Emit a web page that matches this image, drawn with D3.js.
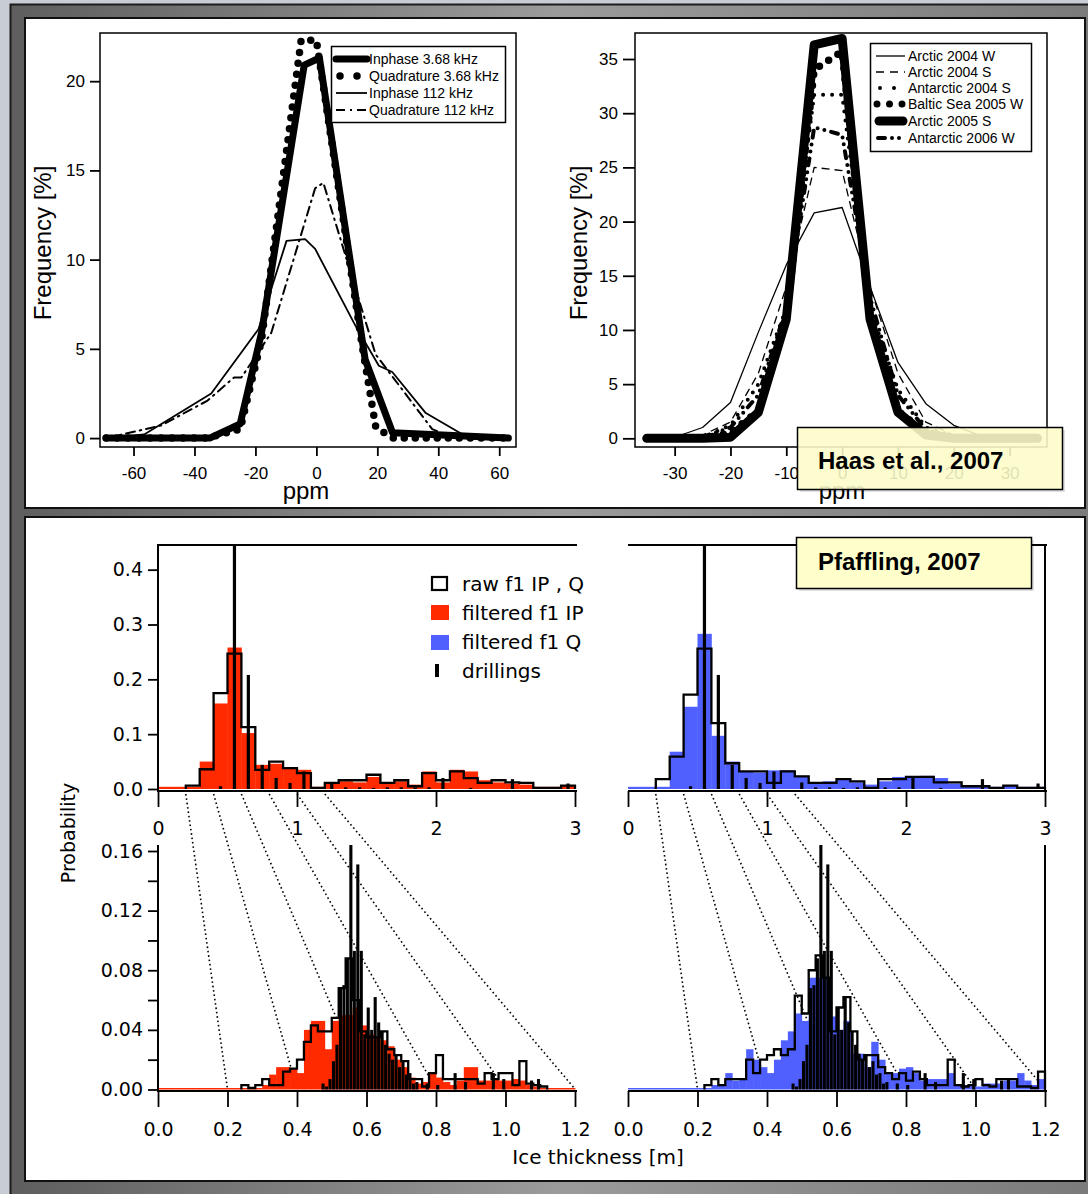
<!DOCTYPE html>
<html><head><meta charset="utf-8">
<script src="https://cdn.jsdelivr.net/npm/d3@7/dist/d3.min.js"></script>
<style>
html,body{margin:0;padding:0;background:#888;}
svg{display:block}
</style></head>
<body>
<svg id="chart" width="1088" height="1194"></svg>
<script>
// ================= DATA =================
// --- top-left (Haas): frequency [%] vs ppm ---
const tlLegend = ["Inphase 3.68 kHz","Quadrature 3.68 kHz","Inphase 112 kHz","Quadrature 112 kHz"];
const tlInphase368 = [[-69,0],[-35,0],[-25,0.8],[-18,5.9],[-4,20.9],[1,21.3],[16,4.4],[25,0.3],[63,0]];
const tlQuad368    = [[-69,0],[-36,0],[-25,0.5],[-18,5.5],[-5,22.3],[0,22.3],[15,5.2],[19.5,0.6],[25,0],[63,0]];
const tlInphase112 = [[-69,0],[-56.5,0.2],[-34.5,2.5],[-19,6.1],[-9.8,11.05],[-3.7,11.15],[-0.4,10.6],[12.8,6.3],[20.5,4.05],[24.9,3.7],[35.9,1.4],[49,0.1],[63,0]];
const tlQuad112    = [[-69,0],[-51,0.7],[-35.7,2.1],[-27,3.4],[-24.6,3.4],[-14.8,5.9],[-0.4,14.0],[2.3,14.3],[19.4,4.7],[38,0.5],[45,0],[63,0]];
const tlXTicks = [-60,-40,-20,0,20,40,60];
const tlYTicks = [0,5,10,15,20];

// --- top-right (Haas): frequency [%] vs ppm ---
const trLegend = ["Arctic 2004 W","Arctic 2004 S","Antarctic 2004 S","Baltic Sea 2005 W","Arctic 2005 S","Antarctic 2006 W"];
const trPpm            = [-35,-30,-25,-20,-15,-10,-5,0,5,10,15,20,25,30,35];
const trArctic2004W    = [0,0.1,1.0,3.3,9.8,16,20.8,21.3,14,7,3.2,1.2,0.2,0,0];
const trArctic2004S    = [0,0,0.3,1.5,6,14,25,24.7,14,6,1.5,0.3,0,0,0];
const trAntarctic2004S = [0,0,0.1,1.2,5,12,31.7,31.7,12,4.5,1,0.2,0,0,0];
const trBaltic2005W    = [0,0,0,0.5,2.5,11,34,35.7,11,2.5,0.5,0,0,0,0];
const trArctic2005S    = [0,0,0,0.1,2.4,11,36.3,36.9,11,2.4,0.3,0,0,0,0];
const trAntarctic2006W = [0,0,0.1,1,4,12,28.7,28,13,4,0.8,0.1,0,0,0];
const trXTicks = [-30,-20,-10,0,10,20,30];
const trYTicks = [0,5,10,15,20,25,30,35];

// --- bottom (Pfaffling): probability vs ice thickness ---
const topBinWidth = 0.1;   // m, histograms on 0..3 m
const botBinWidth = 0.02;  // m, histograms on 0..1.2 m
const hTopRawL  = [0,0,0.006,0.036,0.175,0.247,0.113,0.035,0.05,0.038,0.029,0.002,0.011,0.016,0.016,0.026,0.011,0.016,0.005,0.029,0.016,0.032,0.020,0.011,0.016,0.012,0.011,0.002,0.002,0.006];
const hTopFiltL = [0.004,0.004,0.004,0.05,0.156,0.258,0.102,0.044,0.046,0.038,0.035,0.004,0.010,0.014,0.012,0.022,0.010,0.014,0.008,0.032,0.012,0.035,0.032,0.016,0.012,0.010,0.008,0.004,0.004,0.006];
const hTopRawR  = [0,0,0.018,0.059,0.172,0.256,0.12,0.047,0.032,0.032,0.011,0.032,0.023,0.011,0.011,0.018,0.014,0.002,0.018,0.018,0.022,0.022,0.012,0.012,0.005,0.005,0.002,0.006,0.002,0.002];
const hTopFiltR = [0.004,0.004,0.004,0.068,0.150,0.283,0.097,0.05,0.032,0.03,0.034,0.034,0.024,0.012,0.014,0.018,0.012,0.008,0.014,0.022,0.022,0.024,0.020,0.010,0.006,0.004,0.004,0.006,0.004,0.004];
const drillTop  = [0,0,0,0,0.005,0.62,0.208,0.044,0.02,0.011,0.032,0,0.012,0.003,0.003,0.002,0.003,0.003,0.003,0.003,0.02,0,0.002,0,0,0.018,0,0,0,0.01];

const hBotRawL  = [0,0,0,0,0,0,0,0,0,0,0,0,0.003,0.001,0.003,0.007,0.003,0.003,0.012,0.014,0.020,0.032,0.043,0.039,0.039,0.048,0.068,0.088,0.06,0.039,0.035,0.035,0.039,0.027,0.023,0.019,0.007,0.007,0.002,0.011,0.023,0.007,0.007,0.007,0.007,0.007,0.004,0.011,0.007,0.011,0.011,0.003,0.019,0.004,0.003,0.002,0,0,0,0];
const hBotFiltL = [0.001,0.001,0.001,0.001,0.001,0.001,0.001,0.001,0.001,0.001,0.001,0.001,0.001,0.001,0.001,0.003,0.01,0.015,0.015,0.014,0.011,0.04,0.046,0.046,0.027,0.046,0.05,0.05,0.055,0.043,0.037,0.035,0.033,0.029,0.020,0.015,0.008,0.004,0.005,0.011,0.008,0.005,0.003,0.006,0.015,0.015,0.006,0.006,0.007,0.006,0.006,0.007,0.006,0.003,0.002,0.001,0.001,0.001,0.001,0.001];
const hBotRawR  = [0,0,0,0,0,0,0,0,0,0,0,0.003,0.007,0.003,0.007,0.007,0.007,0.020,0.011,0.02,0.023,0.027,0.023,0.027,0.063,0.051,0.08,0.09,0.075,0.039,0.055,0.062,0.039,0.02,0.023,0.023,0.015,0.011,0.007,0.011,0.006,0.012,0.007,0.003,0.003,0.003,0.02,0.003,0.002,0.003,0.007,0.003,0.002,0.007,0.007,0.007,0.002,0.002,0.001,0.012];
const hBotFiltR = [0.001,0.001,0.001,0.001,0.001,0.001,0.001,0.001,0.001,0.001,0.001,0.001,0.003,0.003,0.011,0.006,0.007,0.027,0.02,0.015,0.011,0.02,0.033,0.039,0.051,0.046,0.075,0.075,0.075,0.049,0.04,0.046,0.024,0.024,0.015,0.032,0.02,0.011,0.011,0.014,0.015,0.011,0.006,0.007,0.007,0.007,0.011,0.003,0.003,0.003,0.002,0.004,0.004,0.004,0.006,0.006,0.011,0.006,0.003,0.007];
const drillBotThick = [0.475,0.485,0.495,0.505,0.515,0.525,0.535,0.545,0.555,0.565,0.575,0.585,0.595,0.605,0.615,0.625,0.635,0.645,0.655,0.665,0.675,0.685,0.695,0.705,0.715,0.725,0.735,0.745,0.775,0.805,0.855,0.885,0.965,0.995,1.075,1.095];
const drillBotProb  = [0.004,0.002,0.007,0.019,0.03,0.068,0.07,0.088,0.164,0.093,0.151,0.093,0.037,0.055,0.04,0.062,0.045,0.039,0.03,0.024,0.02,0.023,0.015,0.019,0.01,0.011,0.004,0.005,0.004,0.003,0.011,0.005,0.011,0.007,0.006,0.007];
const topXTicks = [0,1,2,3];
const topYTicks = [0,0.1,0.2,0.3,0.4];
const botXTicks = [0,0.2,0.4,0.6,0.8,1.0,1.2];
const botYTicks = [0,0.02,0.04,0.06,0.08,0.1,0.12,0.14,0.16];
const linkTicks = [0.2,0.4,0.6,0.8,1.0,1.2];
const botLegend = ["raw f1 IP , Q","filtered f1 IP","filtered f1 Q","drillings"];

// ================= DRAWING =================
const FT = "'Liberation Sans', Arial, Helvetica, sans-serif";
const FB = "'DejaVu Sans', 'Liberation Sans', sans-serif";
const RED = "#ff2a00", BLUE = "#5060ff", YEL = "#ffffcc";
const svg = d3.select("#chart");
const defs = svg.append("defs");

// background
const bgGrad = defs.append("linearGradient").attr("id","bgGrad").attr("x1",0).attr("x2",1).attr("y1",0).attr("y2",0);
bgGrad.append("stop").attr("offset","0").attr("stop-color","#5e5e5e");
bgGrad.append("stop").attr("offset","0.5").attr("stop-color","#9b9b9b");
bgGrad.append("stop").attr("offset","1").attr("stop-color","#7a7a7a");
svg.append("rect").attr("width",1088).attr("height",1194).attr("fill","#c8cdd5");
svg.append("rect").attr("x",10.5).attr("y",4.5).attr("width",1090).attr("height",1200)
  .attr("fill","url(#bgGrad)").attr("stroke","#1c1c1c").attr("stroke-width",2);
svg.append("rect").attr("x",25).attr("y",18).attr("width",1060).attr("height",490)
  .attr("fill","#fff").attr("stroke","#111").attr("stroke-width",2);
svg.append("rect").attr("x",25).attr("y",517).attr("width",1060).attr("height",664)
  .attr("fill","#fff").attr("stroke","#111").attr("stroke-width",2);

function addClip(id,x,y,w,h){
  defs.append("clipPath").attr("id",id).append("rect").attr("x",x).attr("y",y).attr("width",w).attr("height",h);
}
function styleAxis(sel,font,size){
  sel.select(".domain").remove();
  sel.selectAll(".tick line").attr("stroke","#000").attr("stroke-width",1.4);
  sel.selectAll(".tick text").attr("font-family",font).attr("font-size",size).attr("fill","#000");
}

// ---------- top-left ----------
const tlx = d3.scaleLinear().domain([-71,65.5]).range([100,516]);
const tly = d3.scaleLinear().domain([-0.5,22.7]).range([447,33]);
addClip("clipTL",100,33,416,414);
const gTL = svg.append("g");
const tlLine = d3.line().x(d=>tlx(d[0])).y(d=>tly(d[1]));
const gTLd = gTL.append("g").attr("clip-path","url(#clipTL)");
const tlStyles = [
  {data:tlInphase368, w:7, dash:null},
  {data:tlQuad368, w:7.5, dash:"0 11"},
  {data:tlInphase112, w:1.8, dash:null},
  {data:tlQuad112, w:2, dash:"9 5 1.5 5"}
];
tlStyles.forEach(s=>{
  gTLd.append("path").attr("d",tlLine(s.data)).attr("fill","none").attr("stroke","#000")
    .attr("stroke-width",s.w).attr("stroke-linejoin","round").attr("stroke-linecap","round")
    .attr("stroke-dasharray",s.dash);
});
gTL.append("rect").attr("x",100).attr("y",33).attr("width",416).attr("height",414)
  .attr("fill","none").attr("stroke","#000").attr("stroke-width",1.5);
gTL.append("g").attr("transform","translate(100,0)")
  .call(d3.axisLeft(tly).tickValues(tlYTicks).tickSize(10).tickPadding(5).tickFormat(d=>String(d)))
  .call(styleAxis,FT,17);
gTL.append("g").attr("transform","translate(0,447)")
  .call(d3.axisBottom(tlx).tickValues(tlXTicks).tickSize(9).tickPadding(11).tickFormat(d=>String(d)))
  .call(styleAxis,FT,17);
gTL.append("text").attr("transform","translate(51,243) rotate(-90)").attr("text-anchor","middle")
  .attr("font-family",FT).attr("font-size",24).text("Frequency [%]");
gTL.append("text").attr("x",306).attr("y",499).attr("text-anchor","middle")
  .attr("font-family",FT).attr("font-size",24).text("ppm");
// legend
const tlLg = gTL.append("g");
tlLg.append("rect").attr("x",331.5).attr("y",46.5).attr("width",174).attr("height",76)
  .attr("fill","#fff").attr("stroke","#000").attr("stroke-width",1.5);
tlLegend.forEach((name,i)=>{
  const yy = 59 + i*17;
  const s = tlStyles[i];
  const x1 = i===1 ? 340 : 336, x2 = i===1 ? 358 : 367;
  tlLg.append("line").attr("x1",x1).attr("x2",x2).attr("y1",yy).attr("y2",yy)
    .attr("stroke","#000").attr("stroke-width",s.w).attr("stroke-linecap",(i===0||i===1)?"round":"butt")
    .attr("stroke-dasharray", i===1 ? "0 17" : (i===3 ? "9 5 2 5" : null));
  tlLg.append("text").attr("x",369).attr("y",yy).attr("dy","0.35em")
    .attr("font-family",FT).attr("font-size",14).text(name);
});

// ---------- top-right ----------
const trx = d3.scaleLinear().domain([-37.1,36.7]).range([635,1047]);
const try_ = d3.scaleLinear().domain([-0.8,37.4]).range([447,33]);
addClip("clipTR",635,33,412,414);
const gTR = svg.append("g");
const gTRd = gTR.append("g").attr("clip-path","url(#clipTR)");
const trLine = d3.line().x((d,i)=>trx(trPpm[i])).y(d=>try_(d));
const trStyles = [
  {data:trArctic2004W, w:1.3, dash:null, cap:"butt"},
  {data:trArctic2004S, w:1.3, dash:"8 5", cap:"butt"},
  {data:trAntarctic2004S, w:4, dash:"0 9", cap:"round"},
  {data:trBaltic2005W, w:7.5, dash:"0 11", cap:"round"},
  {data:trArctic2005S, w:9, dash:null, cap:"round"},
  {data:trAntarctic2006W, w:4, dash:"7 7 0 7 0 7", cap:"round"}
];
[4,0,1,2,3,5].forEach(k=>{
  const s = trStyles[k];
  gTRd.append("path").attr("d",trLine(s.data)).attr("fill","none").attr("stroke","#000")
    .attr("stroke-width",s.w).attr("stroke-linejoin","round").attr("stroke-linecap",s.cap)
    .attr("stroke-dasharray",s.dash);
});
gTR.append("rect").attr("x",635).attr("y",33).attr("width",412).attr("height",414)
  .attr("fill","none").attr("stroke","#000").attr("stroke-width",1.5);
gTR.append("g").attr("transform","translate(635,0)")
  .call(d3.axisLeft(try_).tickValues(trYTicks).tickSize(12).tickPadding(5).tickFormat(d=>String(d)))
  .call(styleAxis,FT,17);
gTR.append("g").attr("transform","translate(0,447)")
  .call(d3.axisBottom(trx).tickValues(trXTicks).tickSize(9).tickPadding(11).tickFormat(d=>String(d)))
  .call(styleAxis,FT,17);
gTR.append("text").attr("transform","translate(587,243) rotate(-90)").attr("text-anchor","middle")
  .attr("font-family",FT).attr("font-size",24).text("Frequency [%]");
gTR.append("text").attr("x",842).attr("y",499).attr("text-anchor","middle")
  .attr("font-family",FT).attr("font-size",24).text("ppm");
const trLg = gTR.append("g");
trLg.append("rect").attr("x",870.5).attr("y",43.5).attr("width",161).attr("height",108)
  .attr("fill","#fff").attr("stroke","#000").attr("stroke-width",1.5);
const trLgY = [56,72,88,104,121,138];
const trLgDash = [null,"8 6","0 14","0 12.5",null,"7 7 0 7 0 7"];
const trLgX1 = [876,876,880,877,879,878];
const trLgX2 = [905,905,895,902.5,903,905];
trLegend.forEach((name,i)=>{
  const yy = trLgY[i], s = trStyles[i];
  trLg.append("line").attr("x1",trLgX1[i]).attr("x2",trLgX2[i]).attr("y1",yy).attr("y2",yy)
    .attr("stroke","#000").attr("stroke-width",i===3?7:s.w).attr("stroke-linecap",s.cap)
    .attr("stroke-dasharray",trLgDash[i]);
  trLg.append("text").attr("x",908).attr("y",yy).attr("dy","0.35em")
    .attr("font-family",FT).attr("font-size",14).text(name);
});
// Haas label box (semi-transparent)
svg.append("rect").attr("x",800).attr("y",430).attr("width",265).attr("height",62)
  .attr("fill","#000").attr("opacity",0.12);
svg.append("rect").attr("x",797.5).attr("y",427.5).attr("width",265).attr("height",62)
  .attr("fill",YEL).attr("fill-opacity",0.88).attr("stroke","#000").attr("stroke-width",1.5);
svg.append("text").attr("x",818).attr("y",469).attr("font-family",FT).attr("font-weight","bold")
  .attr("font-size",24).text("Haas et al., 2007");

// ---------- bottom histograms ----------
function drawHist(g, sx, sy, binW, raw, filt, color, dCenters, dVals, dW, clipId){
  const gc = g.append("g").attr("clip-path",`url(#${clipId})`);
  gc.selectAll(null).data(filt).join("rect")
    .attr("x",(d,i)=>sx(i*binW)).attr("width",(d,i)=>sx((i+1)*binW)-sx(i*binW)+0.4)
    .attr("y",d=>sy(d)).attr("height",d=>sy(0)-sy(d)).attr("fill",color);
  let f = raw.findIndex(v=>v>0), l = raw.length-1;
  while(l>0 && raw[l]===0) l--;
  const pts = [[f*binW,0]];
  for(let i=f;i<=l;i++) pts.push([i*binW,raw[i]]);
  pts.push([(l+1)*binW,raw[l]]); pts.push([(l+1)*binW,0]);
  gc.append("path").attr("d",d3.line().x(d=>sx(d[0])).y(d=>sy(d[1])).curve(d3.curveStepAfter)(pts))
    .attr("fill","none").attr("stroke","#000").attr("stroke-width",2.3).attr("stroke-linejoin","miter");
  gc.selectAll(null).data(dVals).join("rect")
    .attr("x",(d,i)=>sx(dCenters[i])-dW/2).attr("width",dW)
    .attr("y",d=>sy(d)).attr("height",d=>Math.max(0,sy(0)-sy(d))).attr("fill","#000");
}
const drillTopCenters = drillTop.map((d,i)=>(i+0.5)*topBinWidth);

const cols = [
  {x0:158, x1:575, raw:hTopRawL, filt:hTopFiltL, rawB:hBotRawL, filtB:hBotFiltL, color:RED, left:true},
  {x0:628, x1:1045, raw:hTopRawR, filt:hTopFiltR, rawB:hBotRawR, filtB:hBotFiltR, color:BLUE, left:false}
];
cols.forEach((c,ci)=>{
  const g = svg.append("g");
  const sxT = d3.scaleLinear().domain([0,3]).range([c.x0,c.x1]);
  const syT = d3.scaleLinear().domain([0,0.445]).range([789,545]);
  const sxB = d3.scaleLinear().domain([0,1.2]).range([c.x0,c.x1]);
  const syB = d3.scaleLinear().domain([0,0.16]).range([1089.5,851]);
  addClip("clipHT"+ci, c.x0-2, 545, c.x1-c.x0+6, 246);
  addClip("clipHB"+ci, c.x0-2, 845, c.x1-c.x0+6, 246);
  // dotted link lines
  linkTicks.forEach(v=>{
    g.append("line").attr("x1",sxT(v)).attr("y1",794).attr("x2",sxB(v)).attr("y2",1089)
      .attr("stroke","#000").attr("stroke-width",1.6).attr("stroke-dasharray","1.6 2.8");
  });
  drawHist(g, sxT, syT, topBinWidth, c.raw, c.filt, c.color, drillTopCenters, drillTop, 3.2, "clipHT"+ci);
  drawHist(g, sxB, syB, botBinWidth, c.rawB, c.filtB, c.color, drillBotThick, drillBotProb, 3.1, "clipHB"+ci);
  // frame lines
  g.append("line").attr("x1",c.x0).attr("x2",c.x1+2).attr("y1",545).attr("y2",545).attr("stroke","#000").attr("stroke-width",2);
  g.append("line").attr("x1",c.x0).attr("x2",c.x1+2).attr("y1",791).attr("y2",791).attr("stroke","#000").attr("stroke-width",2);
  g.append("line").attr("x1",c.x0).attr("x2",c.x1+2).attr("y1",1091).attr("y2",1091).attr("stroke","#000").attr("stroke-width",2);
  const vx = c.left ? c.x0 : c.x1;
  g.append("line").attr("x1",vx).attr("x2",vx).attr("y1",544).attr("y2",792).attr("stroke","#000").attr("stroke-width",2);
  g.append("line").attr("x1",vx).attr("x2",vx).attr("y1",845).attr("y2",1092).attr("stroke","#000").attr("stroke-width",2);
  // x axes
  g.append("g").attr("transform","translate(0,791)")
    .call(d3.axisBottom(sxT).tickValues(topXTicks).tickSize(16).tickPadding(15).tickFormat(d=>String(d)))
    .call(styleAxis,FB,19);
  g.append("g").attr("transform","translate(0,1091)")
    .call(d3.axisBottom(sxB).tickValues(botXTicks).tickSize(16).tickPadding(16).tickFormat(d3.format(".1f")))
    .call(styleAxis,FB,19);
  if(c.left){
    g.append("g").attr("transform",`translate(${c.x0},0)`)
      .call(d3.axisLeft(syT).tickValues(topYTicks).tickSize(10).tickPadding(5).tickFormat(d3.format(".1f")))
      .call(styleAxis,FB,19);
    g.append("g").attr("transform",`translate(${c.x0},0)`)
      .call(d3.axisLeft(syB).tickValues(botYTicks).tickSize(10).tickPadding(5)
        .tickFormat((d,i)=> i%2===0 ? d3.format(".2f")(d) : ""))
      .call(styleAxis,FB,19);
  }
});
svg.selectAll(".tick line").attr("stroke-width",1.8);
svg.append("text").attr("transform","translate(75,833) rotate(-90)").attr("text-anchor","middle")
  .attr("font-family",FB).attr("font-size",19).text("Probability");
svg.append("text").attr("x",598).attr("y",1164).attr("text-anchor","middle")
  .attr("font-family",FB).attr("font-size",20).text("Ice thickness [m]");

// legend bottom
const bl = svg.append("g");
const blY = [584,613,642,671];
bl.append("rect").attr("x",432).attr("y",577).attr("width",15).attr("height",13).attr("fill","#fff").attr("stroke","#000").attr("stroke-width",2.2);
bl.append("rect").attr("x",431).attr("y",605).attr("width",18).attr("height",15).attr("fill",RED);
bl.append("rect").attr("x",431).attr("y",635).attr("width",18).attr("height",15).attr("fill",BLUE);
bl.append("rect").attr("x",435).attr("y",664).attr("width",4).attr("height",13).attr("fill","#000");
botLegend.forEach((t,i)=>{
  bl.append("text").attr("x",462).attr("y",blY[i]).attr("dy","0.36em")
    .attr("font-family",FB).attr("font-size",20).text(t);
});

// Pfaffling label
svg.append("rect").attr("x",799).attr("y",540).attr("width",235).attr("height",51).attr("fill","#000").attr("opacity",0.12);
svg.append("rect").attr("x",796.5).attr("y",537.5).attr("width",235).attr("height",51)
  .attr("fill",YEL).attr("stroke","#000").attr("stroke-width",1.5);
svg.append("text").attr("x",818).attr("y",570).attr("font-family",FT).attr("font-weight","bold")
  .attr("font-size",24).text("Pfaffling, 2007");
</script>
</body></html>
